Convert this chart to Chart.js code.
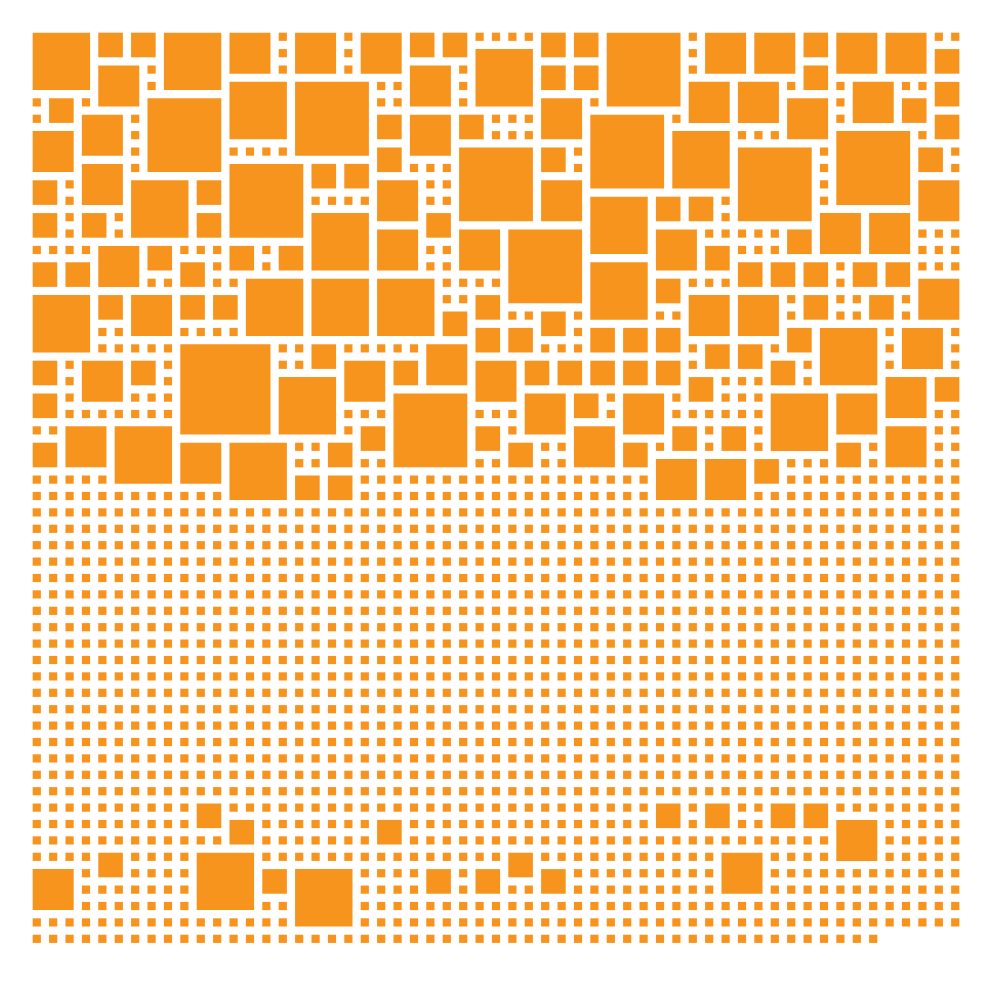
<!DOCTYPE html>
<html>
<head>
<meta charset="utf-8">
<title>Square packing</title>
<script src="https://cdn.jsdelivr.net/npm/chart.js@4/dist/chart.umd.min.js"></script>
<style>
    html, body { margin: 0; padding: 0; background: #fff; }
    canvas { display: block; }
</style>
</head>
<body>
<canvas id="chart" width="1000" height="1000"></canvas>
<script>
    // squares bigger than one cell, one line per grid row
    var squareCols = [
        0, 4, 6, 8, 12, 16, 20, 23, 25, 31, 33, 35, 41, 44, 47, 49, 52,
        27, 55,
        4, 23, 31, 33, 47,
        12, 16, 40, 43, 50, 55,
        1, 7, 31, 46, 53,
        3, 21, 23, 26, 34, 55,
        0, 39, 49,
        21, 26, 31, 43, 54,
        3, 12, 17, 19,
        0, 6, 10, 21, 31, 54,
        34, 38, 40,
        0, 3, 10, 17, 24, 48, 51,
        21, 26, 29, 38, 46,
        4, 7, 12, 15, 41,
        0, 2, 9, 34, 43, 45, 47, 50, 52,
        13, 17, 21, 38, 54,
        0, 4, 6, 9, 11, 27, 40, 43, 47, 51,
        25, 31,
        27, 29, 34, 36, 38, 46, 48, 53,
        9, 17, 24, 41, 43,
        0, 3, 6, 19, 22, 27, 30, 32, 34, 36, 38, 45,
        15, 40, 52, 55,
        0, 22, 30, 33, 36, 45, 49,
        2, 5, 20, 27, 33, 39, 42, 52,
        0, 9, 12, 18, 29, 36, 49,
        38, 41, 44,
        16, 18,
        10, 38, 41, 45, 47,
        12, 21, 49,
        4, 10, 29, 42,
        0, 14, 16, 24, 27, 31
    ];
    var squareRows = [
        0, 0, 0, 0, 0, 0, 0, 0, 0, 0, 0, 0, 0, 0, 0, 0, 0,
        1, 1,
        2, 2, 2, 2, 2,
        3, 3, 3, 3, 3, 3,
        4, 4, 4, 4, 4,
        5, 5, 5, 5, 5, 5,
        6, 6, 6,
        7, 7, 7, 7, 7,
        8, 8, 8, 8,
        9, 9, 9, 9, 9, 9,
        10, 10, 10,
        11, 11, 11, 11, 11, 11, 11,
        12, 12, 12, 12, 12,
        13, 13, 13, 13, 13,
        14, 14, 14, 14, 14, 14, 14, 14, 14,
        15, 15, 15, 15, 15,
        16, 16, 16, 16, 16, 16, 16, 16, 16, 16,
        17, 17,
        18, 18, 18, 18, 18, 18, 18, 18,
        19, 19, 19, 19, 19,
        20, 20, 20, 20, 20, 20, 20, 20, 20, 20, 20, 20,
        21, 21, 21, 21,
        22, 22, 22, 22, 22, 22, 22,
        24, 24, 24, 24, 24, 24, 24, 24,
        25, 25, 25, 25, 25, 25, 25,
        26, 26, 26,
        27, 27,
        47, 47, 47, 47, 47,
        48, 48, 48,
        50, 50, 50, 50,
        51, 51, 51, 51, 51, 51
    ];
    var squareSpans = [
        4, 2, 2, 4, 3, 3, 3, 2, 2, 2, 2, 5, 3, 3, 2, 3, 3,
        4, 2,
        3, 3, 2, 2, 2,
        4, 5, 3, 3, 3, 2,
        2, 5, 3, 3, 2,
        3, 2, 3, 2, 5, 2,
        3, 4, 5,
        2, 5, 2, 5, 2,
        3, 5, 2, 2,
        2, 4, 2, 3, 3, 3,
        4, 2, 2,
        2, 2, 2, 4, 2, 3, 3,
        3, 3, 5, 3, 2,
        3, 2, 2, 2, 2,
        2, 2, 2, 4, 2, 2, 2, 2, 2,
        4, 4, 4, 2, 3,
        4, 2, 3, 2, 2, 2, 3, 3, 2, 2,
        2, 2,
        2, 2, 2, 2, 2, 2, 4, 3,
        6, 2, 3, 2, 2,
        2, 3, 2, 3, 2, 3, 2, 2, 2, 2, 2, 2,
        4, 2, 3, 2,
        2, 5, 3, 2, 3, 4, 3,
        3, 4, 2, 2, 3, 2, 2, 3,
        2, 3, 4, 2, 2, 2, 2,
        3, 3, 2,
        2, 2,
        2, 2, 2, 2, 2,
        2, 2, 3,
        2, 4, 2, 3,
        3, 2, 4, 2, 2, 2
    ];

    // extent of the grid, every free cell in it holds a single small square
    var gridCols = 57;
    var gridRows = 56;
    var lastRowCols = 52;

    var ORANGE = '#f7941d';
    var CELL_FILL = 0.5;   // share of a cell's pitch that is square, rest is gap

    function build_points() {
        var taken = {};
        var points = [];
        squareCols.forEach(function (col, i) {
            var span = squareSpans[i];
            for (var r = 0; r < span; r++) {
                for (var c = 0; c < span; c++) {
                    taken[(squareRows[i] + r) + '_' + (col + c)] = true;
                }
            }
            points.push(make_point(col, squareRows[i], span));
        });
        for (var row = 0; row < gridRows; row++) {
            var cols = row === gridRows - 1 ? lastRowCols : gridCols;
            for (var col = 0; col < cols; col++) {
                if (!taken[row + '_' + col]) {
                    points.push(make_point(col, row, 1));
                }
            }
        }
        return points;
    }

    function make_point(col, row, span) {
        var middle = (span - 1 + CELL_FILL) / 2;
        return {x: col + middle, y: row + middle, span: span};
    }

    // rect point style has a side of sqrt(2) * radius
    function square_radius(context) {
        var scale = context.chart.scales.x;
        var span = context.raw.span - 1 + CELL_FILL;
        var side = scale.getPixelForValue(span) - scale.getPixelForValue(0);
        return side * Math.SQRT1_2;
    }

    new Chart(document.getElementById('chart'), {
        type: 'scatter',
        data: {
            datasets: [{
                data: build_points(),
                pointStyle: 'rect',
                pointRadius: square_radius,
                pointHoverRadius: square_radius,
                pointBackgroundColor: ORANGE,
                pointBorderWidth: 0,
                clip: false
            }]
        },
        options: {
            responsive: false,
            animation: false,
            events: [],
            layout: {padding: 0},
            plugins: {
                legend: {display: false},
                tooltip: {enabled: false}
            },
            scales: {
                x: {type: 'linear', display: false, min: -1.992, max: 58.98},
                y: {type: 'linear', display: false, reverse: true, min: -1.992, max: 58.98}
            }
        }
    });
</script>
</body>
</html>
